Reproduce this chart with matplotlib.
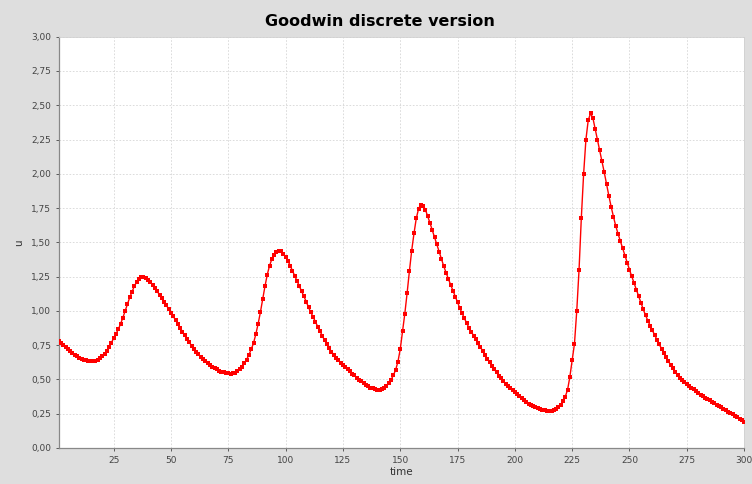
import matplotlib.pyplot as plt
from matplotlib.ticker import MultipleLocator, FuncFormatter

# time steps of the discrete Goodwin model
time = list(range(1, 301))

# u values, one per time step
u = [
    0.780, 0.765, 0.750, 0.735, 0.720, 0.706, 0.693, 0.681, 0.670, 0.660,
    0.652, 0.645, 0.639, 0.635, 0.633, 0.633, 0.637, 0.644, 0.654, 0.668,
    0.686, 0.710, 0.738, 0.768, 0.800, 0.832, 0.865, 0.905, 0.950, 1.000,
    1.050, 1.098, 1.140, 1.180, 1.210, 1.232, 1.245, 1.248, 1.242, 1.228,
    1.210, 1.188, 1.165, 1.142, 1.118, 1.092, 1.066, 1.040, 1.014, 0.988,
    0.960, 0.932, 0.904, 0.876, 0.848, 0.821, 0.795, 0.770, 0.746, 0.723,
    0.702, 0.683, 0.665, 0.648, 0.633, 0.619, 0.606, 0.594, 0.583, 0.573,
    0.564, 0.557, 0.551, 0.547, 0.544, 0.543, 0.545, 0.550, 0.559, 0.573,
    0.592, 0.617, 0.645, 0.680, 0.720, 0.765, 0.830, 0.905, 0.990, 1.085,
    1.180, 1.265, 1.330, 1.378, 1.410, 1.430, 1.440, 1.435, 1.418, 1.395,
    1.365, 1.330, 1.293, 1.255, 1.217, 1.180, 1.142, 1.105, 1.068, 1.025,
    0.990, 0.955, 0.920, 0.886, 0.852, 0.818, 0.786, 0.756, 0.728, 0.702,
    0.680, 0.660, 0.641, 0.623, 0.606, 0.589, 0.573, 0.558, 0.543, 0.529,
    0.514, 0.499, 0.485, 0.472, 0.460, 0.450, 0.441, 0.434, 0.428, 0.425,
    0.424, 0.428, 0.437, 0.452, 0.472, 0.498, 0.530, 0.570, 0.630, 0.720,
    0.850, 0.980, 1.130, 1.290, 1.440, 1.565, 1.675, 1.745, 1.775, 1.768,
    1.738, 1.690, 1.640, 1.588, 1.538, 1.485, 1.432, 1.378, 1.325, 1.278,
    1.233, 1.190, 1.146, 1.103, 1.062, 1.020, 0.982, 0.945, 0.910, 0.876,
    0.848, 0.820, 0.792, 0.764, 0.735, 0.706, 0.678, 0.651, 0.625, 0.600,
    0.575, 0.551, 0.528, 0.507, 0.487, 0.469, 0.453, 0.438, 0.424, 0.410,
    0.393, 0.377, 0.362, 0.348, 0.335, 0.324, 0.314, 0.305, 0.297, 0.290,
    0.284, 0.279, 0.275, 0.272, 0.271, 0.272, 0.276, 0.284, 0.297, 0.315,
    0.340, 0.375, 0.425, 0.520, 0.640, 0.760, 1.000, 1.300, 1.680, 2.000,
    2.250, 2.390, 2.440, 2.410, 2.330, 2.250, 2.170, 2.090, 2.010, 1.925,
    1.840, 1.760, 1.688, 1.620, 1.563, 1.510, 1.457, 1.404, 1.350, 1.300,
    1.251, 1.203, 1.155, 1.107, 1.060, 1.012, 0.968, 0.929, 0.892, 0.858,
    0.824, 0.789, 0.755, 0.724, 0.692, 0.661, 0.632, 0.605, 0.580, 0.556,
    0.533, 0.514, 0.497, 0.481, 0.467, 0.453, 0.440, 0.427, 0.414, 0.402,
    0.390, 0.379, 0.368, 0.357, 0.347, 0.337, 0.327, 0.317, 0.307, 0.297,
    0.287, 0.277, 0.266, 0.255, 0.245, 0.235, 0.225, 0.215, 0.203, 0.190,
]

x_ticks = [25, 50, 75, 100, 125, 150, 175, 200, 225, 250, 275, 300]

fig = plt.figure(figsize=(7.52, 4.84), dpi=100, facecolor='#dedede')
ax = fig.add_axes([0.078, 0.0744, 0.9115, 0.8498])
ax.set_facecolor('white')

ax.plot(time, u, color='red', linewidth=1.0, marker='s', markersize=2.5,
        markeredgewidth=0, zorder=3)

ax.set_xlim(1, 300)
ax.set_ylim(0, 3)
ax.set_xticks(x_ticks)
ax.yaxis.set_major_locator(MultipleLocator(0.25))
ax.yaxis.set_major_formatter(FuncFormatter(lambda v, p: f'{v:.2f}'.replace('.', ',')))

ax.grid(True, color='#d6d6d6', linestyle=(0, (2, 2)), linewidth=0.6)
ax.set_axisbelow(True)

ax.tick_params(axis='both', labelsize=6.5, colors='#444444', length=2,
               width=0.6, direction='out')
for side in ['left', 'bottom']:
    ax.spines[side].set_color('#888888')
    ax.spines[side].set_linewidth(0.9)
for side in ['top', 'right']:
    ax.spines[side].set_color('#d0d0d0')
    ax.spines[side].set_linewidth(0.6)

ax.set_xlabel('time', fontsize=7.5, color='#333333', labelpad=2)
ax.set_ylabel('u', fontsize=7.5, color='#333333', labelpad=5)
fig.suptitle('Goodwin discrete version', fontsize=11.5, fontweight='bold',
             x=0.505, y=0.972, va='top')

fig.savefig('out.png', dpi=100, facecolor=fig.get_facecolor())
